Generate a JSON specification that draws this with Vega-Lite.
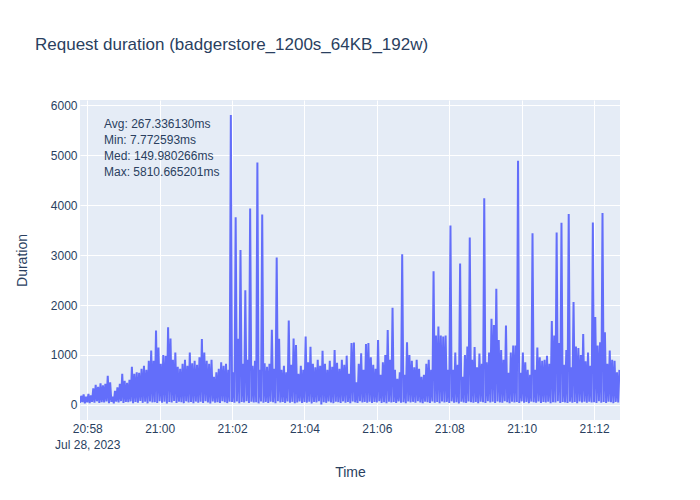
{
"$schema":"https://vega.github.io/schema/vega-lite/v6.json",
"width":540,"height":320,
"autosize":{"type":"none"},
"padding":{"left":80,"top":100,"right":80,"bottom":80},
"background":"white",
"title":{"text":"Request duration (badgerstore_1200s_64KB_192w)","anchor":"start","frame":"group","dx":-45,"offset":32,"baseline":"alphabetic","fontSize":17,"fontWeight":"normal","color":"#2a3f5f","font":"Liberation Sans"},
"config":{"view":{"fill":"#E5ECF6","stroke":null},"font":"Liberation Sans",
"axis":{"labelFont":"Liberation Sans","labelFontSize":12,"labelColor":"#2a3f5f","titleFont":"Liberation Sans","titleFontSize":14,"titleColor":"#2a3f5f","titleFontWeight":"normal","gridColor":"white","gridWidth":1,"domain":false,"ticks":false}},
"encoding":{
"x":{"field":"t","type":"temporal","title":"Time","scale":{"type":"utc","domain":[1690577868000,1690578763000]},
"axis":{"values":[1690577880000,1690578000000,1690578120000,1690578240000,1690578360000,1690578480000,1690578600000,1690578720000],"labelExpr":"utchours(datum.value) == 20 ? [utcFormat(datum.value, '%H:%M'), 'Jul 28, 2023'] : utcFormat(datum.value, '%H:%M')","labelPadding":3,"labelLineHeight":16,"titlePadding":15,"labelFlush":false,"labelOverlap":false}},
"y":{"field":"d","type":"quantitative","title":"Duration","scale":{"domain":[-305,6110],"nice":false,"zero":false},
"axis":{"values":[0,1000,2000,3000,4000,5000,6000],"format":"d","labelPadding":3,"titlePadding":21}}
},
"layer":[
{"data":{"values":[
{"t":1690577868000,"d":40},{"t":1690577870000,"d":180},
{"t":1690577872000,"d":55},{"t":1690577874000,"d":210},
{"t":1690577876000,"d":30},{"t":1690577878000,"d":160},
{"t":1690577880000,"d":48},{"t":1690577882000,"d":220},
{"t":1690577884000,"d":35},{"t":1690577886000,"d":190},
{"t":1690577888000,"d":60},{"t":1690577890000,"d":330},
{"t":1690577892000,"d":42},{"t":1690577894000,"d":400},
{"t":1690577896000,"d":70},{"t":1690577898000,"d":360},
{"t":1690577900000,"d":38},{"t":1690577902000,"d":430},
{"t":1690577904000,"d":52},{"t":1690577906000,"d":390},
{"t":1690577908000,"d":45},{"t":1690577910000,"d":420},
{"t":1690577912000,"d":65},{"t":1690577914000,"d":580},
{"t":1690577916000,"d":33},{"t":1690577918000,"d":450},
{"t":1690577920000,"d":58},{"t":1690577922000,"d":160},
{"t":1690577924000,"d":28},{"t":1690577926000,"d":280},
{"t":1690577928000,"d":62},{"t":1690577930000,"d":350},
{"t":1690577932000,"d":47},{"t":1690577934000,"d":420},
{"t":1690577936000,"d":72},{"t":1690577938000,"d":620},
{"t":1690577940000,"d":36},{"t":1690577942000,"d":480},
{"t":1690577944000,"d":55},{"t":1690577946000,"d":440},
{"t":1690577948000,"d":50},{"t":1690577950000,"d":500},
{"t":1690577952000,"d":68},{"t":1690577954000,"d":760},
{"t":1690577956000,"d":31},{"t":1690577958000,"d":620},
{"t":1690577960000,"d":57},{"t":1690577962000,"d":650},
{"t":1690577964000,"d":44},{"t":1690577966000,"d":640},
{"t":1690577968000,"d":75},{"t":1690577970000,"d":720},
{"t":1690577972000,"d":39},{"t":1690577974000,"d":780},
{"t":1690577976000,"d":60},{"t":1690577978000,"d":700},
{"t":1690577980000,"d":29},{"t":1690577982000,"d":880},
{"t":1690577984000,"d":66},{"t":1690577986000,"d":1090},
{"t":1690577988000,"d":48},{"t":1690577990000,"d":880},
{"t":1690577992000,"d":53},{"t":1690577994000,"d":1490},
{"t":1690577996000,"d":35},{"t":1690577998000,"d":1150},
{"t":1690578000000,"d":70},{"t":1690578002000,"d":820},
{"t":1690578004000,"d":42},{"t":1690578006000,"d":1000},
{"t":1690578008000,"d":61},{"t":1690578010000,"d":980},
{"t":1690578012000,"d":27},{"t":1690578014000,"d":1555},
{"t":1690578016000,"d":58},{"t":1690578018000,"d":1330},
{"t":1690578020000,"d":46},{"t":1690578022000,"d":900},
{"t":1690578024000,"d":74},{"t":1690578026000,"d":1050},
{"t":1690578028000,"d":37},{"t":1690578030000,"d":760},
{"t":1690578032000,"d":63},{"t":1690578034000,"d":720},
{"t":1690578036000,"d":51},{"t":1690578038000,"d":820},
{"t":1690578040000,"d":33},{"t":1690578042000,"d":900},
{"t":1690578044000,"d":69},{"t":1690578046000,"d":780},
{"t":1690578048000,"d":45},{"t":1690578050000,"d":1050},
{"t":1690578052000,"d":56},{"t":1690578054000,"d":830},
{"t":1690578056000,"d":30},{"t":1690578058000,"d":880},
{"t":1690578060000,"d":64},{"t":1690578062000,"d":800},
{"t":1690578064000,"d":41},{"t":1690578066000,"d":950},
{"t":1690578068000,"d":59},{"t":1690578070000,"d":1320},
{"t":1690578072000,"d":36},{"t":1690578074000,"d":1050},
{"t":1690578076000,"d":72},{"t":1690578078000,"d":880},
{"t":1690578080000,"d":48},{"t":1690578082000,"d":820},
{"t":1690578084000,"d":27},{"t":1690578086000,"d":900},
{"t":1690578088000,"d":66},{"t":1690578090000,"d":560},
{"t":1690578092000,"d":43},{"t":1690578094000,"d":650},
{"t":1690578096000,"d":54},{"t":1690578098000,"d":720},
{"t":1690578100000,"d":38},{"t":1690578102000,"d":850},
{"t":1690578104000,"d":71},{"t":1690578106000,"d":780},
{"t":1690578108000,"d":49},{"t":1690578110000,"d":820},
{"t":1690578112000,"d":34},{"t":1690578114000,"d":700},
{"t":1690578116000,"d":62},{"t":1690578118000,"d":5810.665201},
{"t":1690578120000,"d":57},{"t":1690578122000,"d":650},
{"t":1690578124000,"d":40},{"t":1690578126000,"d":3757},
{"t":1690578128000,"d":68},{"t":1690578130000,"d":1325},
{"t":1690578132000,"d":31},{"t":1690578134000,"d":3105},
{"t":1690578136000,"d":55},{"t":1690578138000,"d":820},
{"t":1690578140000,"d":46},{"t":1690578142000,"d":2294},
{"t":1690578144000,"d":73},{"t":1690578146000,"d":900},
{"t":1690578148000,"d":35},{"t":1690578150000,"d":3937},
{"t":1690578152000,"d":60},{"t":1690578154000,"d":780},
{"t":1690578156000,"d":44},{"t":1690578158000,"d":880},
{"t":1690578160000,"d":52},{"t":1690578162000,"d":4855},
{"t":1690578164000,"d":29},{"t":1690578166000,"d":700},
{"t":1690578168000,"d":67},{"t":1690578170000,"d":3817},
{"t":1690578172000,"d":41},{"t":1690578174000,"d":830},
{"t":1690578176000,"d":58},{"t":1690578178000,"d":760},
{"t":1690578180000,"d":37},{"t":1690578182000,"d":820},
{"t":1690578184000,"d":63},{"t":1690578186000,"d":1505},
{"t":1690578188000,"d":50},{"t":1690578190000,"d":720},
{"t":1690578192000,"d":32},{"t":1690578194000,"d":2952},
{"t":1690578196000,"d":70},{"t":1690578198000,"d":1325},
{"t":1690578200000,"d":45},{"t":1690578202000,"d":700},
{"t":1690578204000,"d":56},{"t":1690578206000,"d":780},
{"t":1690578208000,"d":38},{"t":1690578210000,"d":650},
{"t":1690578212000,"d":65},{"t":1690578214000,"d":1690},
{"t":1690578216000,"d":42},{"t":1690578218000,"d":800},
{"t":1690578220000,"d":59},{"t":1690578222000,"d":1330},
{"t":1690578224000,"d":30},{"t":1690578226000,"d":1200},
{"t":1690578228000,"d":47},{"t":1690578230000,"d":620},
{"t":1690578232000,"d":69},{"t":1690578234000,"d":780},
{"t":1690578236000,"d":36},{"t":1690578238000,"d":700},
{"t":1690578240000,"d":54},{"t":1690578242000,"d":1370},
{"t":1690578244000,"d":43},{"t":1690578246000,"d":850},
{"t":1690578248000,"d":62},{"t":1690578250000,"d":1165},
{"t":1690578252000,"d":28},{"t":1690578254000,"d":820},
{"t":1690578256000,"d":57},{"t":1690578258000,"d":750},
{"t":1690578260000,"d":48},{"t":1690578262000,"d":900},
{"t":1690578264000,"d":71},{"t":1690578266000,"d":780},
{"t":1690578268000,"d":7.772593},{"t":1690578270000,"d":1085},
{"t":1690578272000,"d":51},{"t":1690578274000,"d":820},
{"t":1690578276000,"d":39},{"t":1690578278000,"d":700},
{"t":1690578280000,"d":66},{"t":1690578282000,"d":880},
{"t":1690578284000,"d":45},{"t":1690578286000,"d":760},
{"t":1690578288000,"d":33},{"t":1690578290000,"d":1100},
{"t":1690578292000,"d":60},{"t":1690578294000,"d":840},
{"t":1690578296000,"d":53},{"t":1690578298000,"d":720},
{"t":1690578300000,"d":37},{"t":1690578302000,"d":900},
{"t":1690578304000,"d":68},{"t":1690578306000,"d":800},
{"t":1690578308000,"d":42},{"t":1690578310000,"d":985},
{"t":1690578312000,"d":56},{"t":1690578314000,"d":620},
{"t":1690578316000,"d":31},{"t":1690578318000,"d":1240},
{"t":1690578320000,"d":64},{"t":1690578322000,"d":1250},
{"t":1690578324000,"d":49},{"t":1690578326000,"d":450},
{"t":1690578328000,"d":35},{"t":1690578330000,"d":820},
{"t":1690578332000,"d":72},{"t":1690578334000,"d":1035},
{"t":1690578336000,"d":46},{"t":1690578338000,"d":700},
{"t":1690578340000,"d":58},{"t":1690578342000,"d":1220},
{"t":1690578344000,"d":40},{"t":1690578346000,"d":1240},
{"t":1690578348000,"d":61},{"t":1690578350000,"d":950},
{"t":1690578352000,"d":34},{"t":1690578354000,"d":800},
{"t":1690578356000,"d":55},{"t":1690578358000,"d":720},
{"t":1690578360000,"d":47},{"t":1690578362000,"d":1300},
{"t":1690578364000,"d":70},{"t":1690578366000,"d":600},
{"t":1690578368000,"d":38},{"t":1690578370000,"d":850},
{"t":1690578372000,"d":52},{"t":1690578374000,"d":1000},
{"t":1690578376000,"d":29},{"t":1690578378000,"d":1500},
{"t":1690578380000,"d":63},{"t":1690578382000,"d":900},
{"t":1690578384000,"d":44},{"t":1690578386000,"d":1945},
{"t":1690578388000,"d":57},{"t":1690578390000,"d":700},
{"t":1690578392000,"d":36},{"t":1690578394000,"d":520},
{"t":1690578396000,"d":68},{"t":1690578398000,"d":650},
{"t":1690578400000,"d":41},{"t":1690578402000,"d":3020},
{"t":1690578404000,"d":53},{"t":1690578406000,"d":600},
{"t":1690578408000,"d":32},{"t":1690578410000,"d":1255},
{"t":1690578412000,"d":65},{"t":1690578414000,"d":1000},
{"t":1690578416000,"d":48},{"t":1690578418000,"d":880},
{"t":1690578420000,"d":59},{"t":1690578422000,"d":750},
{"t":1690578424000,"d":39},{"t":1690578426000,"d":900},
{"t":1690578428000,"d":71},{"t":1690578430000,"d":720},
{"t":1690578432000,"d":45},{"t":1690578434000,"d":560},
{"t":1690578436000,"d":30},{"t":1690578438000,"d":600},
{"t":1690578440000,"d":62},{"t":1690578442000,"d":820},
{"t":1690578444000,"d":50},{"t":1690578446000,"d":900},
{"t":1690578448000,"d":37},{"t":1690578450000,"d":700},
{"t":1690578452000,"d":67},{"t":1690578454000,"d":2676},
{"t":1690578456000,"d":43},{"t":1690578458000,"d":1390},
{"t":1690578460000,"d":55},{"t":1690578462000,"d":1570},
{"t":1690578464000,"d":33},{"t":1690578466000,"d":1390},
{"t":1690578468000,"d":64},{"t":1690578470000,"d":1370},
{"t":1690578472000,"d":47},{"t":1690578474000,"d":1390},
{"t":1690578476000,"d":58},{"t":1690578478000,"d":700},
{"t":1690578480000,"d":35},{"t":1690578482000,"d":3595},
{"t":1690578484000,"d":69},{"t":1690578486000,"d":700},
{"t":1690578488000,"d":42},{"t":1690578490000,"d":1050},
{"t":1690578492000,"d":51},{"t":1690578494000,"d":800},
{"t":1690578496000,"d":28},{"t":1690578498000,"d":2830},
{"t":1690578500000,"d":60},{"t":1690578502000,"d":560},
{"t":1690578504000,"d":46},{"t":1690578506000,"d":1000},
{"t":1690578508000,"d":38},{"t":1690578510000,"d":1170},
{"t":1690578512000,"d":66},{"t":1690578514000,"d":3354},
{"t":1690578516000,"d":53},{"t":1690578518000,"d":900},
{"t":1690578520000,"d":40},{"t":1690578522000,"d":1160},
{"t":1690578524000,"d":57},{"t":1690578526000,"d":750},
{"t":1690578528000,"d":31},{"t":1690578530000,"d":1030},
{"t":1690578532000,"d":63},{"t":1690578534000,"d":820},
{"t":1690578536000,"d":49},{"t":1690578538000,"d":4138},
{"t":1690578540000,"d":36},{"t":1690578542000,"d":850},
{"t":1690578544000,"d":72},{"t":1690578546000,"d":1050},
{"t":1690578548000,"d":44},{"t":1690578550000,"d":1725},
{"t":1690578552000,"d":59},{"t":1690578554000,"d":1600},
{"t":1690578556000,"d":34},{"t":1690578558000,"d":2327},
{"t":1690578560000,"d":65},{"t":1690578562000,"d":1300},
{"t":1690578564000,"d":48},{"t":1690578566000,"d":1100},
{"t":1690578568000,"d":39},{"t":1690578570000,"d":900},
{"t":1690578572000,"d":70},{"t":1690578574000,"d":1590},
{"t":1690578576000,"d":52},{"t":1690578578000,"d":640},
{"t":1690578580000,"d":30},{"t":1690578582000,"d":1050},
{"t":1690578584000,"d":61},{"t":1690578586000,"d":1190},
{"t":1690578588000,"d":45},{"t":1690578590000,"d":1190},
{"t":1690578592000,"d":55},{"t":1690578594000,"d":4890},
{"t":1690578596000,"d":37},{"t":1690578598000,"d":640},
{"t":1690578600000,"d":68},{"t":1690578602000,"d":1050},
{"t":1690578604000,"d":42},{"t":1690578606000,"d":850},
{"t":1690578608000,"d":58},{"t":1690578610000,"d":700},
{"t":1690578612000,"d":33},{"t":1690578614000,"d":600},
{"t":1690578616000,"d":64},{"t":1690578618000,"d":3440},
{"t":1690578620000,"d":50},{"t":1690578622000,"d":700},
{"t":1690578624000,"d":41},{"t":1690578626000,"d":1150},
{"t":1690578628000,"d":67},{"t":1690578630000,"d":950},
{"t":1690578632000,"d":35},{"t":1690578634000,"d":880},
{"t":1690578636000,"d":56},{"t":1690578638000,"d":900},
{"t":1690578640000,"d":46},{"t":1690578642000,"d":980},
{"t":1690578644000,"d":60},{"t":1690578646000,"d":820},
{"t":1690578648000,"d":31},{"t":1690578650000,"d":1680},
{"t":1690578652000,"d":53},{"t":1690578654000,"d":1390},
{"t":1690578656000,"d":44},{"t":1690578658000,"d":3454},
{"t":1690578660000,"d":69},{"t":1690578662000,"d":1240},
{"t":1690578664000,"d":38},{"t":1690578666000,"d":3648},
{"t":1690578668000,"d":57},{"t":1690578670000,"d":800},
{"t":1690578672000,"d":48},{"t":1690578674000,"d":1100},
{"t":1690578676000,"d":36},{"t":1690578678000,"d":3823},
{"t":1690578680000,"d":63},{"t":1690578682000,"d":750},
{"t":1690578684000,"d":42},{"t":1690578686000,"d":2060},
{"t":1690578688000,"d":54},{"t":1690578690000,"d":1170},
{"t":1690578692000,"d":30},{"t":1690578694000,"d":1140},
{"t":1690578696000,"d":66},{"t":1690578698000,"d":1000},
{"t":1690578700000,"d":47},{"t":1690578702000,"d":1420},
{"t":1690578704000,"d":59},{"t":1690578706000,"d":870},
{"t":1690578708000,"d":39},{"t":1690578710000,"d":1050},
{"t":1690578712000,"d":61},{"t":1690578714000,"d":780},
{"t":1690578716000,"d":45},{"t":1690578718000,"d":3655},
{"t":1690578720000,"d":52},{"t":1690578722000,"d":1760},
{"t":1690578724000,"d":34},{"t":1690578726000,"d":1190},
{"t":1690578728000,"d":70},{"t":1690578730000,"d":1255},
{"t":1690578732000,"d":43},{"t":1690578734000,"d":3843},
{"t":1690578736000,"d":56},{"t":1690578738000,"d":1455},
{"t":1690578740000,"d":37},{"t":1690578742000,"d":820},
{"t":1690578744000,"d":62},{"t":1690578746000,"d":1090},
{"t":1690578748000,"d":49},{"t":1690578750000,"d":900},
{"t":1690578752000,"d":33},{"t":1690578754000,"d":880},
{"t":1690578756000,"d":58},{"t":1690578758000,"d":650},
{"t":1690578760000,"d":45},{"t":1690578762000,"d":700}
]},
"mark":{"type":"line","color":"#636efa","strokeWidth":2,"clip":true}},
{"data":{"values":[
{"t":1690577907800,"d":5623,"label":"Avg: 267.336130ms"},
{"t":1690577907800,"d":5302,"label":"Min: 7.772593ms"},
{"t":1690577907800,"d":4981,"label":"Med: 149.980266ms"},
{"t":1690577907800,"d":4660,"label":"Max: 5810.665201ms"}
]},
"mark":{"type":"text","align":"left","baseline":"middle","fontSize":12,"color":"#2a3f5f","font":"Liberation Sans"},
"encoding":{"text":{"field":"label"}}}
]
}
